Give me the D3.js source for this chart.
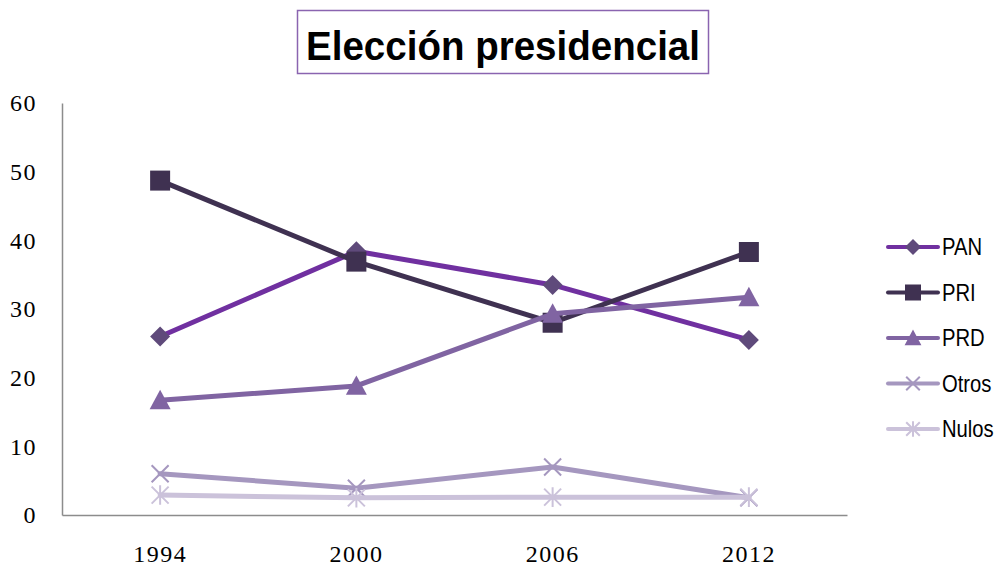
<!DOCTYPE html>
<html>
<head>
<meta charset="utf-8">
<script src="https://cdn.jsdelivr.net/npm/d3@7"></script>
<style>
  body { margin: 0; background: #fff; }
  svg { display: block; }
</style>
</head>
<body>
<div id="chart"></div>
<script>
// Chart data
var years = ["1994", "2000", "2006", "2012"];
var yTicks = [0, 10, 20, 30, 40, 50, 60];
var pan = [26.0, 38.4, 33.5, 25.5];
var pri = [48.7, 36.9, 28.0, 38.3];
var prd = [16.7, 18.8, 29.3, 31.7];
var otros = [6.0, 3.9, 7.0, 2.5];
var nulos = [2.9, 2.5, 2.6, 2.6];

var series = [
    {name: "PAN", values: pan, line: "#7030a0", fill: "#5f4a7b", symbol: "diamond"},
    {name: "PRI", values: pri, line: "#3f3151", fill: "#3f3151", symbol: "square"},
    {name: "PRD", values: prd, line: "#8064a2", fill: "#8064a2", symbol: "triangle"},
    {name: "Otros", values: otros, line: "#a597bf", fill: "#a597bf", symbol: "x"},
    {name: "Nulos", values: nulos, line: "#cbc2da", fill: "#cbc2da", symbol: "star"}
];

var width = 1003, height = 569;
var plotLeft = 62, plotRight = 847, plotTop = 103, plotBottom = 515;

var svg = d3.select("#chart").append("svg")
    .attr("width", width)
    .attr("height", height);

var x = d3.scaleBand().domain(years).range([plotLeft, plotRight]);
var y = d3.scaleLinear().domain([0, 60]).range([plotBottom, plotTop]);

function cx(i) { return x(years[i]) + x.bandwidth() / 2; }

// Title box
svg.append("rect")
    .attr("x", 297.5).attr("y", 10.5)
    .attr("width", 411).attr("height", 63)
    .attr("fill", "#fff")
    .attr("stroke", "#8a64b0")
    .attr("stroke-width", 1.5);
svg.append("text")
    .attr("x", 503).attr("y", 60)
    .attr("text-anchor", "middle")
    .attr("textLength", 394)
    .attr("lengthAdjust", "spacingAndGlyphs")
    .style("font-family", "Liberation Sans, Arial, sans-serif")
    .style("font-weight", "bold")
    .style("font-size", "41px")
    .text("Elección presidencial");

// Axes
var yAxis = svg.append("g")
    .attr("transform", "translate(" + plotLeft + ",0)")
    .call(d3.axisLeft(y).tickValues(yTicks).tickSize(0).tickPadding(25));
var xAxis = svg.append("g")
    .attr("transform", "translate(0," + plotBottom + ")")
    .call(d3.axisBottom(x).tickSize(0).tickPadding(30));

[xAxis, yAxis].forEach(function(a) {
    a.select(".domain").attr("stroke", "#8c8c8c").attr("stroke-width", 1.5);
    a.selectAll("text")
        .attr("fill", "#000")
        .style("font-family", "Liberation Serif, serif")
        .style("font-size", "24px")
        .style("letter-spacing", "1.5px");
});

var line = d3.line()
    .x(function(d, i) { return cx(i); })
    .y(function(d) { return y(d); });

function drawMarker(g, s, px, py, k) {
    k = k || 1;
    if (s.symbol === "diamond") {
        var r = 10 * k;
        g.append("path")
            .attr("d", "M" + px + "," + (py - r) + "L" + (px + r) + "," + py + "L" + px + "," + (py + r) + "L" + (px - r) + "," + py + "Z")
            .attr("fill", s.fill);
    } else if (s.symbol === "square") {
        var h = 10 * k;
        g.append("rect")
            .attr("x", px - h).attr("y", py - h)
            .attr("width", 2 * h).attr("height", 2 * h)
            .attr("fill", s.fill);
    } else if (s.symbol === "triangle") {
        var t = 10.5 * k;
        g.append("path")
            .attr("d", "M" + px + "," + (py - t) + "L" + (px + t) + "," + (py + t * 0.85) + "L" + (px - t) + "," + (py + t * 0.85) + "Z")
            .attr("fill", s.fill);
    } else {
        var a = 8.5 * k;
        var p = "M" + (px - a) + "," + (py - a) + "L" + (px + a) + "," + (py + a) +
                "M" + (px + a) + "," + (py - a) + "L" + (px - a) + "," + (py + a);
        if (s.symbol === "star") p += "M" + px + "," + (py - a * 1.15) + "L" + px + "," + (py + a * 1.15);
        g.append("path")
            .attr("d", p)
            .attr("stroke", s.fill)
            .attr("stroke-width", 2)
            .attr("fill", "none");
    }
}

// Lines and markers, later series drawn on top
var plot = svg.append("g");
series.forEach(function(s) {
    var g = plot.append("g");
    g.append("path")
        .datum(s.values)
        .attr("d", line)
        .attr("fill", "none")
        .attr("stroke", s.line)
        .attr("stroke-width", 5)
        .attr("stroke-linejoin", "round")
        .attr("stroke-linecap", "round");
    s.values.forEach(function(v, i) {
        drawMarker(g, s, cx(i), y(v));
    });
});

// Legend
var legend = svg.append("g");
series.forEach(function(s, i) {
    var ly = 247 + i * 45.5;
    var g = legend.append("g");
    g.append("line")
        .attr("x1", 888).attr("x2", 938)
        .attr("y1", ly).attr("y2", ly)
        .attr("stroke", s.line)
        .attr("stroke-width", 4)
        .attr("stroke-linecap", "round");
    drawMarker(g, s, 913, ly, 0.8);
    g.append("text")
        .attr("transform", "translate(942," + (ly + 8) + ") scale(0.88,1)")
        .style("font-family", "Liberation Sans, Arial, sans-serif")
        .style("font-size", "23px")
        .attr("fill", "#000")
        .text(s.name);
});
</script>
</body>
</html>
